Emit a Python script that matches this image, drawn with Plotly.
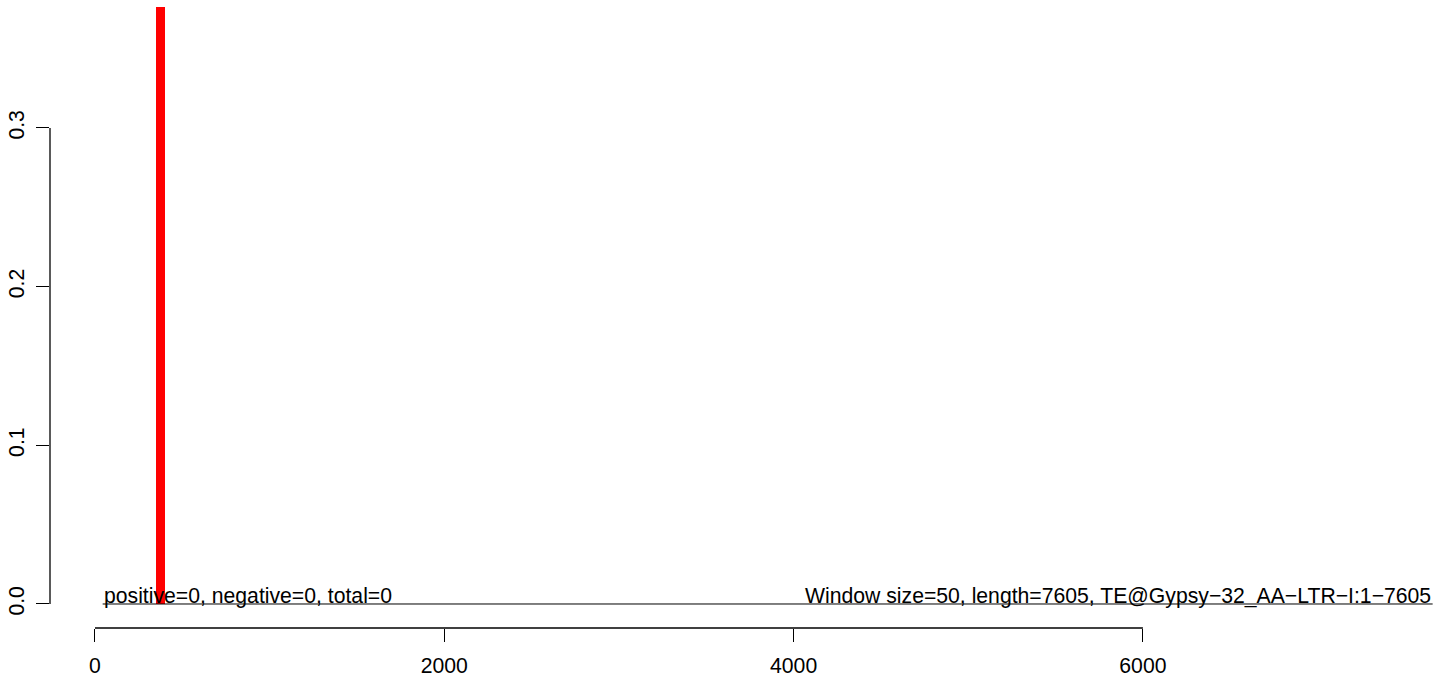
import plotly.graph_objects as go

# Data
bar_x = [375]
bar_y = [0.38]
bar_width = 50
baseline_x = [44, 7659]
baseline_y = [0, 0]
x_ticks = [0, 2000, 4000, 6000]
y_ticks = [0.0, 0.1, 0.2, 0.3]
y_tick_labels = ["0.0", "0.1", "0.2", "0.3"]
left_label = "positive=0, negative=0, total=0"
right_label = "Window size=50, length=7605, TE@Gypsy\u221232_AA\u2212LTR\u2212I:1\u22127605"
left_label_x = 50
right_label_x = 7655

FONT = "Liberation Sans, Arial, sans-serif"
FS = 21.2

fig = go.Figure()
fig.add_trace(go.Bar(x=bar_x, y=bar_y, width=bar_width, marker=dict(color="#FF0000", line=dict(width=0)),
                     showlegend=False, hoverinfo="skip"))
fig.add_trace(go.Scatter(x=baseline_x, y=baseline_y, mode="lines", line=dict(color="black", width=1),
                         showlegend=False, hoverinfo="skip"))

fig.add_annotation(x=left_label_x, y=0, text=left_label, showarrow=False, xanchor="left", yanchor="bottom",
                   yshift=-6, xshift=-2, font=dict(family=FONT, size=FS, color="black"))
fig.add_annotation(x=right_label_x, y=0, text=right_label, showarrow=False, xanchor="right", yanchor="bottom",
                   yshift=-6, xshift=1, font=dict(family=FONT, size=FS, color="black"))

# axis lines spanning first to last tick (R style)
fig.add_shape(type="line", xref="x", yref="paper", x0=x_ticks[0], x1=x_ticks[-1], y0=0, y1=0,
              line=dict(color="black", width=1.3))
fig.add_shape(type="line", xref="paper", yref="y", x0=0, x1=0, y0=y_ticks[0], y1=y_ticks[-1],
              line=dict(color="black", width=1.3))

fig.update_layout(
    width=1444, height=679,
    margin=dict(l=50, r=4, t=7, b=51, autoexpand=False),
    plot_bgcolor="white", paper_bgcolor="white",
    font=dict(family=FONT, size=FS, color="black"),
    bargap=0,
    xaxis=dict(range=[-257.6, 7701.1], tickvals=x_ticks, ticktext=[str(v) for v in x_ticks],
               ticks="outside", ticklen=13, tickwidth=1.3, tickcolor="black", automargin=False,
               showgrid=False, zeroline=False, showline=False, tickfont=dict(size=FS),
               ticklabelstandoff=6),
    yaxis=dict(range=[-0.01513, 0.37625], tickvals=y_ticks, ticktext=y_tick_labels,
               ticks="outside", ticklen=13, tickwidth=1.3, tickcolor="black", automargin=False,
               showgrid=False, zeroline=False, showline=False, tickangle=-90,
               tickfont=dict(size=FS), ticklabelstandoff=4),
)

fig.write_html("out.html", config={"displayModeBar": False},
               post_script="document.body.style.margin='0';document.body.style.overflow='hidden';")
